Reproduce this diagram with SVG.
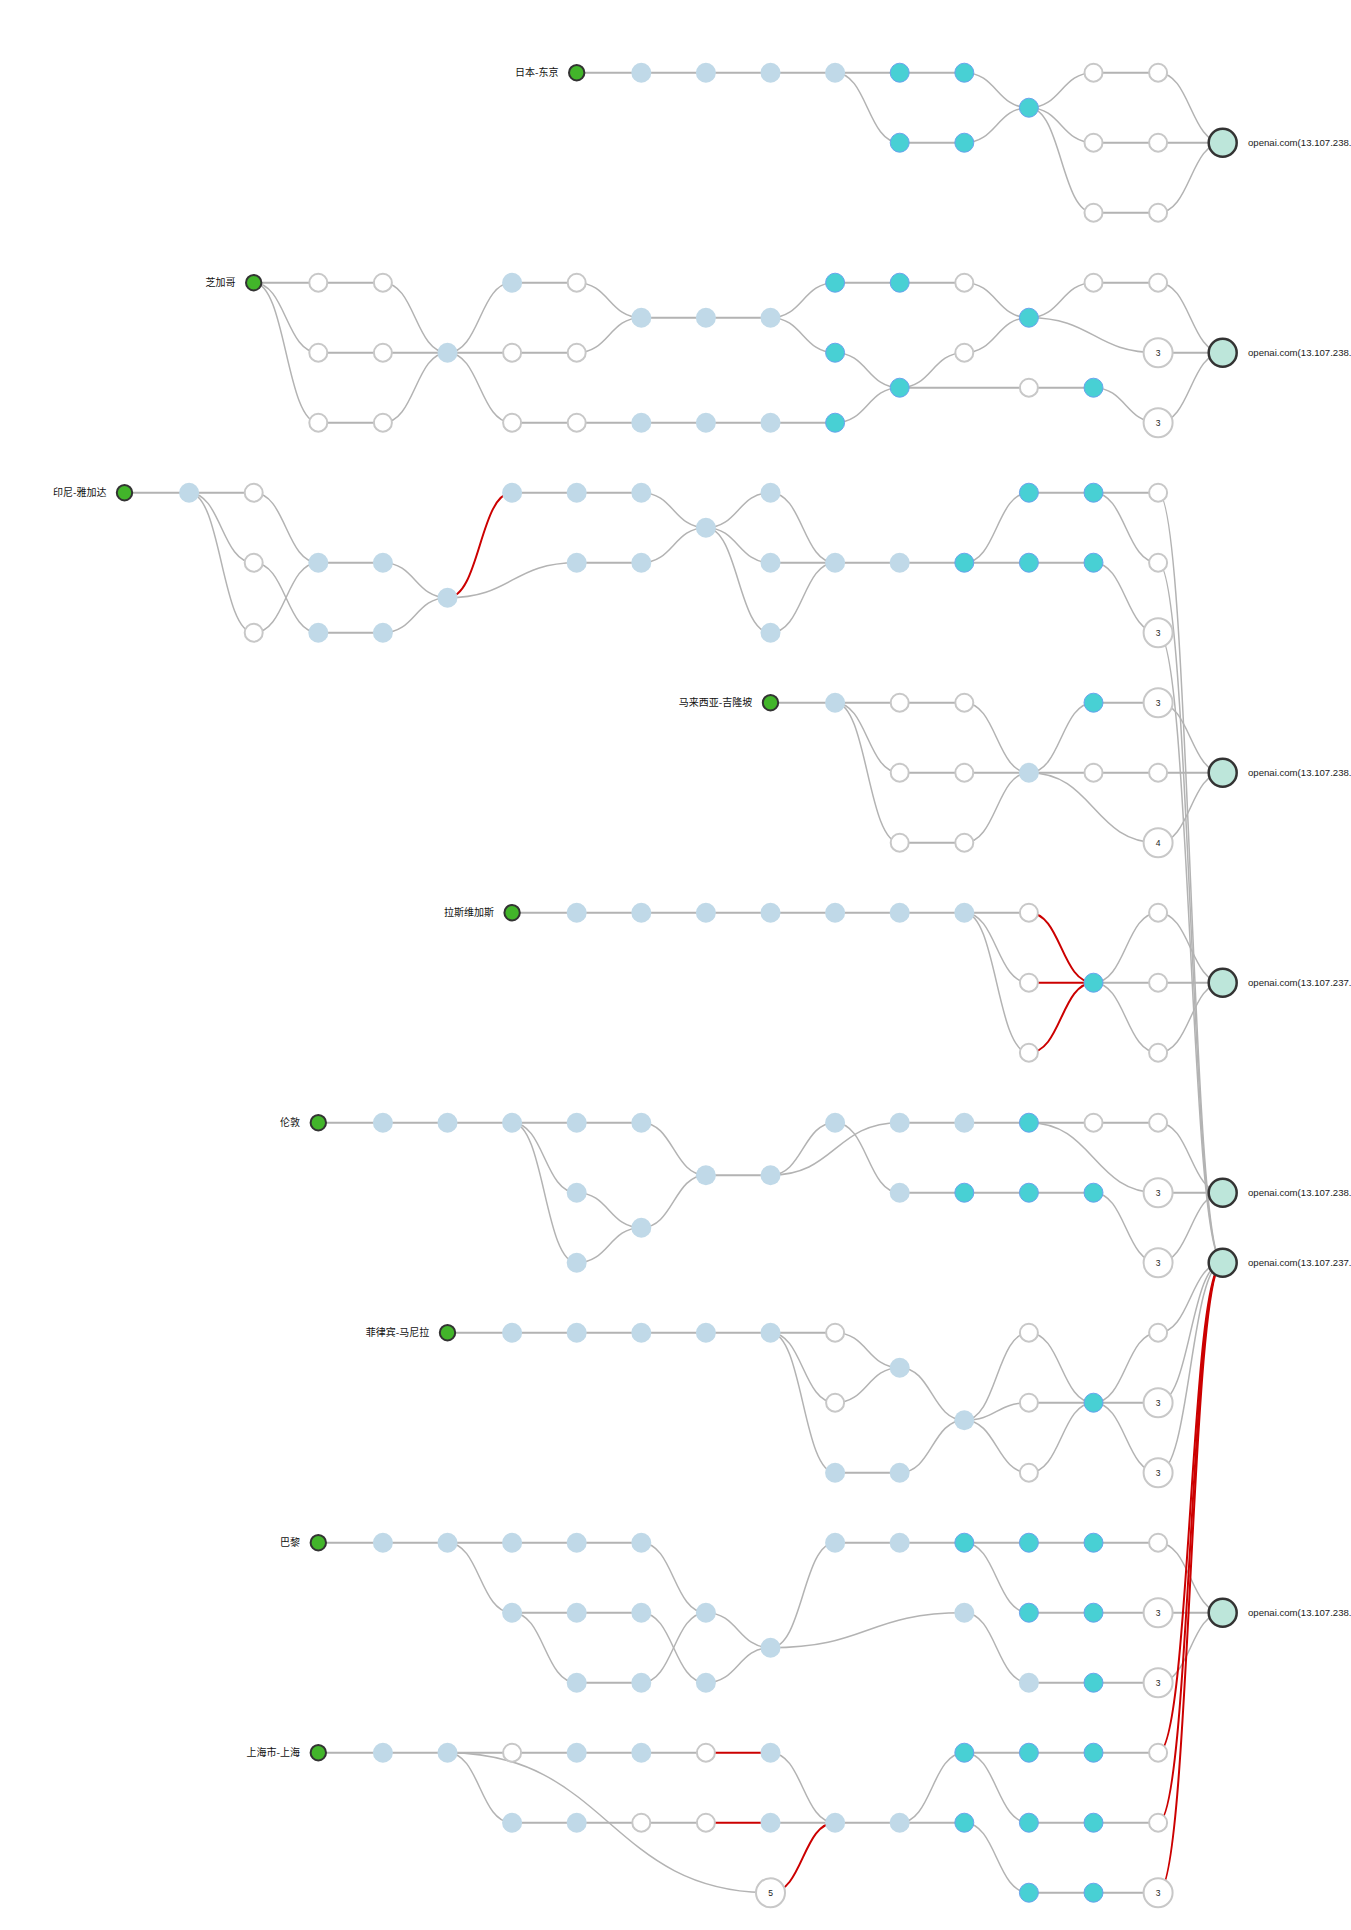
<svg xmlns="http://www.w3.org/2000/svg" width="1351" height="1930" viewBox="0 0 1351 1930">
<style>
.e{fill:none;stroke:#b3b3b3;stroke-width:1.5}
.s{stroke-width:2}
.r{fill:none;stroke:#cc0000;stroke-width:2}
.src{fill:#42b52a;stroke:#333;stroke-width:2}
.lb{fill:#c0d9e8}
.tl{fill:#48d0d4;stroke:#6aa3ee;stroke-width:1}
.wh{fill:#fff;stroke:#c8c8c8;stroke-width:2}
.dst{fill:#bde6da;stroke:#333;stroke-width:2.5}
.lbl{font-family:"Noto Sans CJK SC","Noto Sans",sans-serif;font-size:10px;fill:#111;text-anchor:end}
.dl{font-family:"Liberation Sans",Arial,sans-serif;font-size:9.6px;fill:#222}
.num{font-family:"Liberation Sans",Arial,sans-serif;font-size:8.5px;fill:#222;text-anchor:middle}
</style>
<rect width="1351" height="1930" fill="#fff"/>
<g id="connectors">
<!-- Japan -->
<path class="e s" d="M576.7 72.7H964.3M899.7 142.7H964.3M1093.5 72.7H1158.1M1093.5 142.7H1222.7M1093.5 212.7H1158.1"/>
<path class="e" d="M835.1 72.7C867.4 72.7 867.4 142.7 899.7 142.7"/>
<path class="e" d="M964.3 72.7C996.6 72.7 996.6 107.7 1028.9 107.7"/>
<path class="e" d="M964.3 142.7C996.6 142.7 996.6 107.7 1028.9 107.7"/>
<path class="e" d="M1028.9 107.7C1061.2 107.7 1061.2 72.7 1093.5 72.7"/>
<path class="e" d="M1028.9 107.7C1061.2 107.7 1061.2 142.7 1093.5 142.7"/>
<path class="e" d="M1028.9 107.7C1061.2 107.7 1061.2 212.7 1093.5 212.7"/>
<path class="e" d="M1158.1 72.7C1190.4 72.7 1190.4 142.7 1222.7 142.7"/>
<path class="e" d="M1158.1 212.7C1190.4 212.7 1190.4 142.7 1222.7 142.7"/>
<!-- Chicago -->
<path class="e s" d="M253.7 282.7H382.9M512.1 282.7H576.7M318.3 352.7H576.7M318.3 422.7H382.9M512.1 422.7H835.1M641.3 317.7H770.5M835.1 282.7H964.3M899.7 387.7H1093.5M1093.5 282.7H1158.1M1158.1 352.7H1222.7"/>
<path class="e" d="M253.7 282.7C286 282.7 286 352.7 318.3 352.7"/>
<path class="e" d="M253.7 282.7C286 282.7 286 422.7 318.3 422.7"/>
<path class="e" d="M382.9 282.7C415.2 282.7 415.2 352.7 447.5 352.7"/>
<path class="e" d="M382.9 422.7C415.2 422.7 415.2 352.7 447.5 352.7"/>
<path class="e" d="M447.5 352.7C479.8 352.7 479.8 282.7 512.1 282.7"/>
<path class="e" d="M447.5 352.7C479.8 352.7 479.8 422.7 512.1 422.7"/>
<path class="e" d="M576.7 282.7C609 282.7 609 317.7 641.3 317.7"/>
<path class="e" d="M576.7 352.7C609 352.7 609 317.7 641.3 317.7"/>
<path class="e" d="M770.5 317.7C802.8 317.7 802.8 282.7 835.1 282.7"/>
<path class="e" d="M770.5 317.7C802.8 317.7 802.8 352.7 835.1 352.7"/>
<path class="e" d="M964.3 282.7C996.6 282.7 996.6 317.7 1028.9 317.7"/>
<path class="e" d="M835.1 352.7C867.4 352.7 867.4 387.7 899.7 387.7"/>
<path class="e" d="M835.1 422.7C867.4 422.7 867.4 387.7 899.7 387.7"/>
<path class="e" d="M899.7 387.7C932 387.7 932 352.7 964.3 352.7"/>
<path class="e" d="M964.3 352.7C996.6 352.7 996.6 317.7 1028.9 317.7"/>
<path class="e" d="M1093.5 387.7C1125.8 387.7 1125.8 422.7 1158.1 422.7"/>
<path class="e" d="M1028.9 317.7C1061.2 317.7 1061.2 282.7 1093.5 282.7"/>
<path class="e" d="M1028.9 317.7C1093.5 317.7 1093.5 352.7 1158.1 352.7"/>
<path class="e" d="M1158.1 282.7C1190.4 282.7 1190.4 352.7 1222.7 352.7"/>
<path class="e" d="M1158.1 422.7C1190.4 422.7 1190.4 352.7 1222.7 352.7"/>
<!-- Jakarta -->
<path class="e s" d="M124.5 492.7H253.7M512.1 492.7H641.3M1028.9 492.7H1158.1M318.3 562.7H382.9M576.7 562.7H641.3M770.5 562.7H1093.5M318.3 632.7H382.9"/>
<path class="e" d="M189.1 492.7C221.4 492.7 221.4 562.7 253.7 562.7"/>
<path class="e" d="M189.1 492.7C221.4 492.7 221.4 632.7 253.7 632.7"/>
<path class="e" d="M253.7 492.7C286 492.7 286 562.7 318.3 562.7"/>
<path class="e" d="M253.7 562.7C286 562.7 286 632.7 318.3 632.7"/>
<path class="e" d="M253.7 632.7C286 632.7 286 562.7 318.3 562.7"/>
<path class="e" d="M382.9 562.7C415.2 562.7 415.2 597.7 447.5 597.7"/>
<path class="e" d="M382.9 632.7C415.2 632.7 415.2 597.7 447.5 597.7"/>
<path class="e" d="M447.5 597.7C512.1 597.7 512.1 562.7 576.7 562.7"/>
<path class="e" d="M641.3 492.7C673.6 492.7 673.6 527.7 705.9 527.7"/>
<path class="e" d="M641.3 562.7C673.6 562.7 673.6 527.7 705.9 527.7"/>
<path class="e" d="M705.9 527.7C738.2 527.7 738.2 492.7 770.5 492.7"/>
<path class="e" d="M705.9 527.7C738.2 527.7 738.2 562.7 770.5 562.7"/>
<path class="e" d="M705.9 527.7C738.2 527.7 738.2 632.7 770.5 632.7"/>
<path class="e" d="M770.5 492.7C802.8 492.7 802.8 562.7 835.1 562.7"/>
<path class="e" d="M770.5 632.7C802.8 632.7 802.8 562.7 835.1 562.7"/>
<path class="e" d="M964.3 562.7C996.6 562.7 996.6 492.7 1028.9 492.7"/>
<path class="e" d="M1093.5 492.7C1125.8 492.7 1125.8 562.7 1158.1 562.7"/>
<path class="e" d="M1093.5 562.7C1125.8 562.7 1125.8 632.7 1158.1 632.7"/>
<path class="e" d="M1158.1 492.7C1190.4 492.7 1190.4 1262.7 1222.7 1262.7"/>
<path class="e" d="M1158.1 562.7C1190.4 562.7 1190.4 1262.7 1222.7 1262.7"/>
<path class="e" d="M1158.1 632.7C1190.4 632.7 1190.4 1262.7 1222.7 1262.7"/>
<path class="r" d="M447.5 597.7C479.8 597.7 479.8 492.7 512.1 492.7"/>
<!-- Kuala Lumpur -->
<path class="e s" d="M770.5 702.7H964.3M1093.5 702.7H1158.1M899.7 772.7H1222.7M899.7 842.7H964.3"/>
<path class="e" d="M835.1 702.7C867.4 702.7 867.4 772.7 899.7 772.7"/>
<path class="e" d="M835.1 702.7C867.4 702.7 867.4 842.7 899.7 842.7"/>
<path class="e" d="M964.3 702.7C996.6 702.7 996.6 772.7 1028.9 772.7"/>
<path class="e" d="M964.3 842.7C996.6 842.7 996.6 772.7 1028.9 772.7"/>
<path class="e" d="M1028.9 772.7C1061.2 772.7 1061.2 702.7 1093.5 702.7"/>
<path class="e" d="M1028.9 772.7C1093.5 772.7 1093.5 842.7 1158.1 842.7"/>
<path class="e" d="M1158.1 702.7C1190.4 702.7 1190.4 772.7 1222.7 772.7"/>
<path class="e" d="M1158.1 842.7C1190.4 842.7 1190.4 772.7 1222.7 772.7"/>
<!-- Las Vegas -->
<path class="e s" d="M512.1 912.7H1028.9M1093.5 982.7H1222.7"/>
<path class="e" d="M964.3 912.7C996.6 912.7 996.6 982.7 1028.9 982.7"/>
<path class="e" d="M964.3 912.7C996.6 912.7 996.6 1052.7 1028.9 1052.7"/>
<path class="e" d="M1093.5 982.7C1125.8 982.7 1125.8 912.7 1158.1 912.7"/>
<path class="e" d="M1093.5 982.7C1125.8 982.7 1125.8 1052.7 1158.1 1052.7"/>
<path class="e" d="M1158.1 912.7C1190.4 912.7 1190.4 982.7 1222.7 982.7"/>
<path class="e" d="M1158.1 1052.7C1190.4 1052.7 1190.4 982.7 1222.7 982.7"/>
<path class="r" d="M1028.9 982.7H1093.5"/>
<path class="r" d="M1028.9 912.7C1061.2 912.7 1061.2 982.7 1093.5 982.7"/>
<path class="r" d="M1028.9 1052.7C1061.2 1052.7 1061.2 982.7 1093.5 982.7"/>
<!-- London -->
<path class="e s" d="M318.3 1122.7H641.3M899.7 1122.7H1158.1M705.9 1175.2H770.5M899.7 1192.7H1093.5M1158.1 1192.7H1222.7"/>
<path class="e" d="M512.1 1122.7C544.4 1122.7 544.4 1192.7 576.7 1192.7"/>
<path class="e" d="M512.1 1122.7C544.4 1122.7 544.4 1262.7 576.7 1262.7"/>
<path class="e" d="M641.3 1122.7C673.6 1122.7 673.6 1175.2 705.9 1175.2"/>
<path class="e" d="M576.7 1192.7C609 1192.7 609 1227.7 641.3 1227.7"/>
<path class="e" d="M576.7 1262.7C609 1262.7 609 1227.7 641.3 1227.7"/>
<path class="e" d="M641.3 1227.7C673.6 1227.7 673.6 1175.2 705.9 1175.2"/>
<path class="e" d="M770.5 1175.2C802.8 1175.2 802.8 1122.7 835.1 1122.7"/>
<path class="e" d="M770.5 1175.2C835.1 1175.2 835.1 1122.7 899.7 1122.7"/>
<path class="e" d="M835.1 1122.7C867.4 1122.7 867.4 1192.7 899.7 1192.7"/>
<path class="e" d="M1028.9 1122.7C1093.5 1122.7 1093.5 1192.7 1158.1 1192.7"/>
<path class="e" d="M1093.5 1192.7C1125.8 1192.7 1125.8 1262.7 1158.1 1262.7"/>
<path class="e" d="M1158.1 1122.7C1190.4 1122.7 1190.4 1192.7 1222.7 1192.7"/>
<path class="e" d="M1158.1 1262.7C1190.4 1262.7 1190.4 1192.7 1222.7 1192.7"/>
<!-- Manila -->
<path class="e s" d="M447.5 1332.7H835.1M1028.9 1402.7H1158.1M835.1 1472.7H899.7"/>
<path class="e" d="M770.5 1332.7C802.8 1332.7 802.8 1402.7 835.1 1402.7"/>
<path class="e" d="M770.5 1332.7C802.8 1332.7 802.8 1472.7 835.1 1472.7"/>
<path class="e" d="M835.1 1332.7C867.4 1332.7 867.4 1367.7 899.7 1367.7"/>
<path class="e" d="M835.1 1402.7C867.4 1402.7 867.4 1367.7 899.7 1367.7"/>
<path class="e" d="M899.7 1367.7C932 1367.7 932 1420.2 964.3 1420.2"/>
<path class="e" d="M899.7 1472.7C932 1472.7 932 1420.2 964.3 1420.2"/>
<path class="e" d="M964.3 1420.2C996.6 1420.2 996.6 1332.7 1028.9 1332.7"/>
<path class="e" d="M964.3 1420.2C996.6 1420.2 996.6 1402.7 1028.9 1402.7"/>
<path class="e" d="M964.3 1420.2C996.6 1420.2 996.6 1472.7 1028.9 1472.7"/>
<path class="e" d="M1028.9 1332.7C1061.2 1332.7 1061.2 1402.7 1093.5 1402.7"/>
<path class="e" d="M1028.9 1472.7C1061.2 1472.7 1061.2 1402.7 1093.5 1402.7"/>
<path class="e" d="M1093.5 1402.7C1125.8 1402.7 1125.8 1332.7 1158.1 1332.7"/>
<path class="e" d="M1093.5 1402.7C1125.8 1402.7 1125.8 1472.7 1158.1 1472.7"/>
<path class="e" d="M1158.1 1332.7C1190.4 1332.7 1190.4 1262.7 1222.7 1262.7"/>
<path class="e" d="M1158.1 1402.7C1190.4 1402.7 1190.4 1262.7 1222.7 1262.7"/>
<path class="e" d="M1158.1 1472.7C1190.4 1472.7 1190.4 1262.7 1222.7 1262.7"/>
<!-- Paris -->
<path class="e s" d="M318.3 1542.7H641.3M835.1 1542.7H1158.1M512.1 1612.7H641.3M1028.9 1612.7H1222.7M576.7 1682.7H641.3M1028.9 1682.7H1158.1"/>
<path class="e" d="M447.5 1542.7C479.8 1542.7 479.8 1612.7 512.1 1612.7"/>
<path class="e" d="M512.1 1612.7C544.4 1612.7 544.4 1682.7 576.7 1682.7"/>
<path class="e" d="M641.3 1542.7C673.6 1542.7 673.6 1612.7 705.9 1612.7"/>
<path class="e" d="M641.3 1612.7C673.6 1612.7 673.6 1682.7 705.9 1682.7"/>
<path class="e" d="M641.3 1682.7C673.6 1682.7 673.6 1612.7 705.9 1612.7"/>
<path class="e" d="M705.9 1612.7C738.2 1612.7 738.2 1647.7 770.5 1647.7"/>
<path class="e" d="M705.9 1682.7C738.2 1682.7 738.2 1647.7 770.5 1647.7"/>
<path class="e" d="M770.5 1647.7C802.8 1647.7 802.8 1542.7 835.1 1542.7"/>
<path class="e" d="M770.5 1647.7C867.4 1647.7 867.4 1612.7 964.3 1612.7"/>
<path class="e" d="M964.3 1542.7C996.6 1542.7 996.6 1612.7 1028.9 1612.7"/>
<path class="e" d="M964.3 1612.7C996.6 1612.7 996.6 1682.7 1028.9 1682.7"/>
<path class="e" d="M1158.1 1542.7C1190.4 1542.7 1190.4 1612.7 1222.7 1612.7"/>
<path class="e" d="M1158.1 1682.7C1190.4 1682.7 1190.4 1612.7 1222.7 1612.7"/>
<!-- Shanghai -->
<path class="e s" d="M318.3 1752.7H705.9M964.3 1752.7H1158.1M512.1 1822.7H705.9M770.5 1822.7H964.3M1028.9 1822.7H1158.1M1028.9 1892.7H1158.1"/>
<path class="e" d="M447.5 1752.7C479.8 1752.7 479.8 1822.7 512.1 1822.7"/>
<path class="e" d="M447.5 1752.7C609 1752.7 609 1892.7 770.5 1892.7"/>
<path class="e" d="M770.5 1752.7C802.8 1752.7 802.8 1822.7 835.1 1822.7"/>
<path class="e" d="M899.7 1822.7C932 1822.7 932 1752.7 964.3 1752.7"/>
<path class="e" d="M964.3 1752.7C996.6 1752.7 996.6 1822.7 1028.9 1822.7"/>
<path class="e" d="M964.3 1822.7C996.6 1822.7 996.6 1892.7 1028.9 1892.7"/>
<path class="r" d="M705.9 1752.7H770.5M705.9 1822.7H770.5"/>
<path class="r" d="M770.5 1892.7C802.8 1892.7 802.8 1822.7 835.1 1822.7"/>
<path class="r" d="M1158.1 1752.7C1190.4 1752.7 1190.4 1262.7 1222.7 1262.7"/>
<path class="r" d="M1158.1 1822.7C1190.4 1822.7 1190.4 1262.7 1222.7 1262.7"/>
<path class="r" d="M1158.1 1892.7C1190.4 1892.7 1190.4 1262.7 1222.7 1262.7"/>
</g>

<g id="destinations">
<g id="dest-1"><circle class="dst" cx="1222.7" cy="142.7" r="14"/><text class="dl" x="1248" y="146">openai.com(13.107.238.</text></g>
<g id="dest-2"><circle class="dst" cx="1222.7" cy="352.7" r="14"/><text class="dl" x="1248" y="356">openai.com(13.107.238.</text></g>
<g id="dest-3"><circle class="dst" cx="1222.7" cy="772.7" r="14"/><text class="dl" x="1248" y="776">openai.com(13.107.238.</text></g>
<g id="dest-4"><circle class="dst" cx="1222.7" cy="982.7" r="14"/><text class="dl" x="1248" y="986">openai.com(13.107.237.</text></g>
<g id="dest-5"><circle class="dst" cx="1222.7" cy="1192.7" r="14"/><text class="dl" x="1248" y="1196">openai.com(13.107.238.</text></g>
<g id="dest-6"><circle class="dst" cx="1222.7" cy="1262.7" r="14"/><text class="dl" x="1248" y="1266">openai.com(13.107.237.</text></g>
<g id="dest-7"><circle class="dst" cx="1222.7" cy="1612.7" r="14"/><text class="dl" x="1248" y="1616">openai.com(13.107.238.</text></g>
</g>

<g id="japan">
<g id="jp-src"><circle class="src" cx="576.7" cy="72.7" r="7.7"/><text class="lbl" x="558.5" y="76.3">日本-东京</text></g>
<g id="jp-1"><circle class="lb" cx="641.3" cy="72.7" r="10"/></g>
<g id="jp-2"><circle class="lb" cx="705.9" cy="72.7" r="10"/></g>
<g id="jp-3"><circle class="lb" cx="770.5" cy="72.7" r="10"/></g>
<g id="jp-4"><circle class="lb" cx="835.1" cy="72.7" r="10"/></g>
<g id="jp-5"><circle class="tl" cx="899.7" cy="72.7" r="9.5"/></g>
<g id="jp-6"><circle class="tl" cx="964.3" cy="72.7" r="9.5"/></g>
<g id="jp-7"><circle class="tl" cx="899.7" cy="142.7" r="9.5"/></g>
<g id="jp-8"><circle class="tl" cx="964.3" cy="142.7" r="9.5"/></g>
<g id="jp-9"><circle class="tl" cx="1028.9" cy="107.7" r="9.5"/></g>
<g id="jp-10"><circle class="wh" cx="1093.5" cy="72.7" r="9"/></g>
<g id="jp-11"><circle class="wh" cx="1158.1" cy="72.7" r="9"/></g>
<g id="jp-12"><circle class="wh" cx="1093.5" cy="142.7" r="9"/></g>
<g id="jp-13"><circle class="wh" cx="1158.1" cy="142.7" r="9"/></g>
<g id="jp-14"><circle class="wh" cx="1093.5" cy="212.7" r="9"/></g>
<g id="jp-15"><circle class="wh" cx="1158.1" cy="212.7" r="9"/></g>
</g>

<g id="chicago">
<g id="chi-src"><circle class="src" cx="253.7" cy="282.7" r="7.7"/><text class="lbl" x="235.5" y="286.3">芝加哥</text></g>
<g id="chi-1"><circle class="wh" cx="318.3" cy="282.7" r="9"/></g>
<g id="chi-2"><circle class="wh" cx="382.9" cy="282.7" r="9"/></g>
<g id="chi-3"><circle class="wh" cx="318.3" cy="352.7" r="9"/></g>
<g id="chi-4"><circle class="wh" cx="382.9" cy="352.7" r="9"/></g>
<g id="chi-5"><circle class="wh" cx="318.3" cy="422.7" r="9"/></g>
<g id="chi-6"><circle class="wh" cx="382.9" cy="422.7" r="9"/></g>
<g id="chi-7"><circle class="lb" cx="447.5" cy="352.7" r="10"/></g>
<g id="chi-8"><circle class="lb" cx="512.1" cy="282.7" r="10"/></g>
<g id="chi-9"><circle class="wh" cx="512.1" cy="352.7" r="9"/></g>
<g id="chi-10"><circle class="wh" cx="512.1" cy="422.7" r="9"/></g>
<g id="chi-11"><circle class="wh" cx="576.7" cy="282.7" r="9"/></g>
<g id="chi-12"><circle class="wh" cx="576.7" cy="352.7" r="9"/></g>
<g id="chi-13"><circle class="wh" cx="576.7" cy="422.7" r="9"/></g>
<g id="chi-14"><circle class="lb" cx="641.3" cy="317.7" r="10"/></g>
<g id="chi-15"><circle class="lb" cx="705.9" cy="317.7" r="10"/></g>
<g id="chi-16"><circle class="lb" cx="770.5" cy="317.7" r="10"/></g>
<g id="chi-17"><circle class="lb" cx="641.3" cy="422.7" r="10"/></g>
<g id="chi-18"><circle class="lb" cx="705.9" cy="422.7" r="10"/></g>
<g id="chi-19"><circle class="lb" cx="770.5" cy="422.7" r="10"/></g>
<g id="chi-20"><circle class="tl" cx="835.1" cy="282.7" r="9.5"/></g>
<g id="chi-21"><circle class="tl" cx="899.7" cy="282.7" r="9.5"/></g>
<g id="chi-22"><circle class="wh" cx="964.3" cy="282.7" r="9"/></g>
<g id="chi-23"><circle class="tl" cx="835.1" cy="352.7" r="9.5"/></g>
<g id="chi-24"><circle class="tl" cx="835.1" cy="422.7" r="9.5"/></g>
<g id="chi-25"><circle class="tl" cx="899.7" cy="387.7" r="9.5"/></g>
<g id="chi-26"><circle class="wh" cx="964.3" cy="352.7" r="9"/></g>
<g id="chi-27"><circle class="tl" cx="1028.9" cy="317.7" r="9.5"/></g>
<g id="chi-28"><circle class="wh" cx="1028.9" cy="387.7" r="9"/></g>
<g id="chi-29"><circle class="tl" cx="1093.5" cy="387.7" r="9.5"/></g>
<g id="chi-30"><circle class="wh" cx="1093.5" cy="282.7" r="9"/></g>
<g id="chi-31"><circle class="wh" cx="1158.1" cy="282.7" r="9"/></g>
<g id="chi-32"><circle class="wh" cx="1158.1" cy="352.7" r="14.5"/><text class="num" x="1158.1" y="355.7">3</text></g>
<g id="chi-33"><circle class="wh" cx="1158.1" cy="422.7" r="14.5"/><text class="num" x="1158.1" y="425.7">3</text></g>
</g>

<g id="jakarta">
<g id="jkt-src"><circle class="src" cx="124.5" cy="492.7" r="7.7"/><text class="lbl" x="106.5" y="496.3">印尼-雅加达</text></g>
<g id="jkt-1"><circle class="lb" cx="189.1" cy="492.7" r="10"/></g>
<g id="jkt-2"><circle class="wh" cx="253.7" cy="492.7" r="9"/></g>
<g id="jkt-3"><circle class="wh" cx="253.7" cy="562.7" r="9"/></g>
<g id="jkt-4"><circle class="wh" cx="253.7" cy="632.7" r="9"/></g>
<g id="jkt-5"><circle class="lb" cx="318.3" cy="562.7" r="10"/></g>
<g id="jkt-6"><circle class="lb" cx="382.9" cy="562.7" r="10"/></g>
<g id="jkt-7"><circle class="lb" cx="318.3" cy="632.7" r="10"/></g>
<g id="jkt-8"><circle class="lb" cx="382.9" cy="632.7" r="10"/></g>
<g id="jkt-9"><circle class="lb" cx="447.5" cy="597.7" r="10"/></g>
<g id="jkt-10"><circle class="lb" cx="512.1" cy="492.7" r="10"/></g>
<g id="jkt-11"><circle class="lb" cx="576.7" cy="492.7" r="10"/></g>
<g id="jkt-12"><circle class="lb" cx="641.3" cy="492.7" r="10"/></g>
<g id="jkt-13"><circle class="lb" cx="576.7" cy="562.7" r="10"/></g>
<g id="jkt-14"><circle class="lb" cx="641.3" cy="562.7" r="10"/></g>
<g id="jkt-15"><circle class="lb" cx="705.9" cy="527.7" r="10"/></g>
<g id="jkt-16"><circle class="lb" cx="770.5" cy="492.7" r="10"/></g>
<g id="jkt-17"><circle class="lb" cx="770.5" cy="562.7" r="10"/></g>
<g id="jkt-18"><circle class="lb" cx="770.5" cy="632.7" r="10"/></g>
<g id="jkt-19"><circle class="lb" cx="835.1" cy="562.7" r="10"/></g>
<g id="jkt-20"><circle class="lb" cx="899.7" cy="562.7" r="10"/></g>
<g id="jkt-21"><circle class="tl" cx="964.3" cy="562.7" r="9.5"/></g>
<g id="jkt-22"><circle class="tl" cx="1028.9" cy="492.7" r="9.5"/></g>
<g id="jkt-23"><circle class="tl" cx="1093.5" cy="492.7" r="9.5"/></g>
<g id="jkt-24"><circle class="tl" cx="1028.9" cy="562.7" r="9.5"/></g>
<g id="jkt-25"><circle class="tl" cx="1093.5" cy="562.7" r="9.5"/></g>
<g id="jkt-26"><circle class="wh" cx="1158.1" cy="492.7" r="9"/></g>
<g id="jkt-27"><circle class="wh" cx="1158.1" cy="562.7" r="9"/></g>
<g id="jkt-28"><circle class="wh" cx="1158.1" cy="632.7" r="14.5"/><text class="num" x="1158.1" y="635.7">3</text></g>
</g>

<g id="kualalumpur">
<g id="kl-src"><circle class="src" cx="770.5" cy="702.7" r="7.7"/><text class="lbl" x="752.3" y="706.3">马来西亚-吉隆坡</text></g>
<g id="kl-1"><circle class="lb" cx="835.1" cy="702.7" r="10"/></g>
<g id="kl-2"><circle class="wh" cx="899.7" cy="702.7" r="9"/></g>
<g id="kl-3"><circle class="wh" cx="964.3" cy="702.7" r="9"/></g>
<g id="kl-4"><circle class="wh" cx="899.7" cy="772.7" r="9"/></g>
<g id="kl-5"><circle class="wh" cx="964.3" cy="772.7" r="9"/></g>
<g id="kl-6"><circle class="wh" cx="899.7" cy="842.7" r="9"/></g>
<g id="kl-7"><circle class="wh" cx="964.3" cy="842.7" r="9"/></g>
<g id="kl-8"><circle class="lb" cx="1028.9" cy="772.7" r="10"/></g>
<g id="kl-9"><circle class="tl" cx="1093.5" cy="702.7" r="9.5"/></g>
<g id="kl-10"><circle class="wh" cx="1158.1" cy="702.7" r="14.5"/><text class="num" x="1158.1" y="705.7">3</text></g>
<g id="kl-11"><circle class="wh" cx="1093.5" cy="772.7" r="9"/></g>
<g id="kl-12"><circle class="wh" cx="1158.1" cy="772.7" r="9"/></g>
<g id="kl-13"><circle class="wh" cx="1158.1" cy="842.7" r="14.5"/><text class="num" x="1158.1" y="845.7">4</text></g>
</g>

<g id="lasvegas">
<g id="lv-src"><circle class="src" cx="512.1" cy="912.7" r="7.7"/><text class="lbl" x="493.9" y="916.3">拉斯维加斯</text></g>
<g id="lv-1"><circle class="lb" cx="576.7" cy="912.7" r="10"/></g>
<g id="lv-2"><circle class="lb" cx="641.3" cy="912.7" r="10"/></g>
<g id="lv-3"><circle class="lb" cx="705.9" cy="912.7" r="10"/></g>
<g id="lv-4"><circle class="lb" cx="770.5" cy="912.7" r="10"/></g>
<g id="lv-5"><circle class="lb" cx="835.1" cy="912.7" r="10"/></g>
<g id="lv-6"><circle class="lb" cx="899.7" cy="912.7" r="10"/></g>
<g id="lv-7"><circle class="lb" cx="964.3" cy="912.7" r="10"/></g>
<g id="lv-8"><circle class="wh" cx="1028.9" cy="912.7" r="9"/></g>
<g id="lv-9"><circle class="wh" cx="1028.9" cy="982.7" r="9"/></g>
<g id="lv-10"><circle class="wh" cx="1028.9" cy="1052.7" r="9"/></g>
<g id="lv-11"><circle class="tl" cx="1093.5" cy="982.7" r="9.5"/></g>
<g id="lv-12"><circle class="wh" cx="1158.1" cy="912.7" r="9"/></g>
<g id="lv-13"><circle class="wh" cx="1158.1" cy="982.7" r="9"/></g>
<g id="lv-14"><circle class="wh" cx="1158.1" cy="1052.7" r="9"/></g>
</g>

<g id="london">
<g id="lon-src"><circle class="src" cx="318.3" cy="1122.7" r="7.7"/><text class="lbl" x="300.1" y="1126.3">伦敦</text></g>
<g id="lon-1"><circle class="lb" cx="382.9" cy="1122.7" r="10"/></g>
<g id="lon-2"><circle class="lb" cx="447.5" cy="1122.7" r="10"/></g>
<g id="lon-3"><circle class="lb" cx="512.1" cy="1122.7" r="10"/></g>
<g id="lon-4"><circle class="lb" cx="576.7" cy="1122.7" r="10"/></g>
<g id="lon-5"><circle class="lb" cx="641.3" cy="1122.7" r="10"/></g>
<g id="lon-6"><circle class="lb" cx="576.7" cy="1192.7" r="10"/></g>
<g id="lon-7"><circle class="lb" cx="576.7" cy="1262.7" r="10"/></g>
<g id="lon-8"><circle class="lb" cx="641.3" cy="1227.7" r="10"/></g>
<g id="lon-9"><circle class="lb" cx="705.9" cy="1175.2" r="10"/></g>
<g id="lon-10"><circle class="lb" cx="770.5" cy="1175.2" r="10"/></g>
<g id="lon-11"><circle class="lb" cx="835.1" cy="1122.7" r="10"/></g>
<g id="lon-12"><circle class="lb" cx="899.7" cy="1122.7" r="10"/></g>
<g id="lon-13"><circle class="lb" cx="964.3" cy="1122.7" r="10"/></g>
<g id="lon-14"><circle class="tl" cx="1028.9" cy="1122.7" r="9.5"/></g>
<g id="lon-15"><circle class="wh" cx="1093.5" cy="1122.7" r="9"/></g>
<g id="lon-16"><circle class="wh" cx="1158.1" cy="1122.7" r="9"/></g>
<g id="lon-17"><circle class="lb" cx="899.7" cy="1192.7" r="10"/></g>
<g id="lon-18"><circle class="tl" cx="964.3" cy="1192.7" r="9.5"/></g>
<g id="lon-19"><circle class="tl" cx="1028.9" cy="1192.7" r="9.5"/></g>
<g id="lon-20"><circle class="tl" cx="1093.5" cy="1192.7" r="9.5"/></g>
<g id="lon-21"><circle class="wh" cx="1158.1" cy="1192.7" r="14.5"/><text class="num" x="1158.1" y="1195.7">3</text></g>
<g id="lon-22"><circle class="wh" cx="1158.1" cy="1262.7" r="14.5"/><text class="num" x="1158.1" y="1265.7">3</text></g>
</g>

<g id="manila">
<g id="mnl-src"><circle class="src" cx="447.5" cy="1332.7" r="7.7"/><text class="lbl" x="429.3" y="1336.3">菲律宾-马尼拉</text></g>
<g id="mnl-1"><circle class="lb" cx="512.1" cy="1332.7" r="10"/></g>
<g id="mnl-2"><circle class="lb" cx="576.7" cy="1332.7" r="10"/></g>
<g id="mnl-3"><circle class="lb" cx="641.3" cy="1332.7" r="10"/></g>
<g id="mnl-4"><circle class="lb" cx="705.9" cy="1332.7" r="10"/></g>
<g id="mnl-5"><circle class="lb" cx="770.5" cy="1332.7" r="10"/></g>
<g id="mnl-6"><circle class="wh" cx="835.1" cy="1332.7" r="9"/></g>
<g id="mnl-7"><circle class="wh" cx="835.1" cy="1402.7" r="9"/></g>
<g id="mnl-8"><circle class="lb" cx="835.1" cy="1472.7" r="10"/></g>
<g id="mnl-9"><circle class="lb" cx="899.7" cy="1472.7" r="10"/></g>
<g id="mnl-10"><circle class="lb" cx="899.7" cy="1367.7" r="10"/></g>
<g id="mnl-11"><circle class="lb" cx="964.3" cy="1420.2" r="10"/></g>
<g id="mnl-12"><circle class="wh" cx="1028.9" cy="1332.7" r="9"/></g>
<g id="mnl-13"><circle class="wh" cx="1028.9" cy="1402.7" r="9"/></g>
<g id="mnl-14"><circle class="wh" cx="1028.9" cy="1472.7" r="9"/></g>
<g id="mnl-15"><circle class="tl" cx="1093.5" cy="1402.7" r="9.5"/></g>
<g id="mnl-16"><circle class="wh" cx="1158.1" cy="1332.7" r="9"/></g>
<g id="mnl-17"><circle class="wh" cx="1158.1" cy="1402.7" r="14.5"/><text class="num" x="1158.1" y="1405.7">3</text></g>
<g id="mnl-18"><circle class="wh" cx="1158.1" cy="1472.7" r="14.5"/><text class="num" x="1158.1" y="1475.7">3</text></g>
</g>

<g id="paris">
<g id="par-src"><circle class="src" cx="318.3" cy="1542.7" r="7.7"/><text class="lbl" x="300.1" y="1546.3">巴黎</text></g>
<g id="par-1"><circle class="lb" cx="382.9" cy="1542.7" r="10"/></g>
<g id="par-2"><circle class="lb" cx="447.5" cy="1542.7" r="10"/></g>
<g id="par-3"><circle class="lb" cx="512.1" cy="1542.7" r="10"/></g>
<g id="par-4"><circle class="lb" cx="576.7" cy="1542.7" r="10"/></g>
<g id="par-5"><circle class="lb" cx="641.3" cy="1542.7" r="10"/></g>
<g id="par-6"><circle class="lb" cx="512.1" cy="1612.7" r="10"/></g>
<g id="par-7"><circle class="lb" cx="576.7" cy="1612.7" r="10"/></g>
<g id="par-8"><circle class="lb" cx="641.3" cy="1612.7" r="10"/></g>
<g id="par-9"><circle class="lb" cx="705.9" cy="1612.7" r="10"/></g>
<g id="par-10"><circle class="lb" cx="576.7" cy="1682.7" r="10"/></g>
<g id="par-11"><circle class="lb" cx="641.3" cy="1682.7" r="10"/></g>
<g id="par-12"><circle class="lb" cx="705.9" cy="1682.7" r="10"/></g>
<g id="par-13"><circle class="lb" cx="770.5" cy="1647.7" r="10"/></g>
<g id="par-14"><circle class="lb" cx="835.1" cy="1542.7" r="10"/></g>
<g id="par-15"><circle class="lb" cx="899.7" cy="1542.7" r="10"/></g>
<g id="par-16"><circle class="tl" cx="964.3" cy="1542.7" r="9.5"/></g>
<g id="par-17"><circle class="tl" cx="1028.9" cy="1542.7" r="9.5"/></g>
<g id="par-18"><circle class="tl" cx="1093.5" cy="1542.7" r="9.5"/></g>
<g id="par-19"><circle class="wh" cx="1158.1" cy="1542.7" r="9"/></g>
<g id="par-20"><circle class="lb" cx="964.3" cy="1612.7" r="10"/></g>
<g id="par-21"><circle class="tl" cx="1028.9" cy="1612.7" r="9.5"/></g>
<g id="par-22"><circle class="tl" cx="1093.5" cy="1612.7" r="9.5"/></g>
<g id="par-23"><circle class="wh" cx="1158.1" cy="1612.7" r="14.5"/><text class="num" x="1158.1" y="1615.7">3</text></g>
<g id="par-24"><circle class="lb" cx="1028.9" cy="1682.7" r="10"/></g>
<g id="par-25"><circle class="tl" cx="1093.5" cy="1682.7" r="9.5"/></g>
<g id="par-26"><circle class="wh" cx="1158.1" cy="1682.7" r="14.5"/><text class="num" x="1158.1" y="1685.7">3</text></g>
</g>

<g id="shanghai">
<g id="sh-src"><circle class="src" cx="318.3" cy="1752.7" r="7.7"/><text class="lbl" x="300.1" y="1756.3">上海市-上海</text></g>
<g id="sh-1"><circle class="lb" cx="382.9" cy="1752.7" r="10"/></g>
<g id="sh-2"><circle class="lb" cx="447.5" cy="1752.7" r="10"/></g>
<g id="sh-3"><circle class="wh" cx="512.1" cy="1752.7" r="9"/></g>
<g id="sh-4"><circle class="lb" cx="576.7" cy="1752.7" r="10"/></g>
<g id="sh-5"><circle class="lb" cx="641.3" cy="1752.7" r="10"/></g>
<g id="sh-6"><circle class="wh" cx="705.9" cy="1752.7" r="9"/></g>
<g id="sh-7"><circle class="lb" cx="770.5" cy="1752.7" r="10"/></g>
<g id="sh-8"><circle class="lb" cx="512.1" cy="1822.7" r="10"/></g>
<g id="sh-9"><circle class="lb" cx="576.7" cy="1822.7" r="10"/></g>
<g id="sh-10"><circle class="wh" cx="641.3" cy="1822.7" r="9"/></g>
<g id="sh-11"><circle class="wh" cx="705.9" cy="1822.7" r="9"/></g>
<g id="sh-12"><circle class="lb" cx="770.5" cy="1822.7" r="10"/></g>
<g id="sh-13"><circle class="lb" cx="835.1" cy="1822.7" r="10"/></g>
<g id="sh-14"><circle class="lb" cx="899.7" cy="1822.7" r="10"/></g>
<g id="sh-15"><circle class="tl" cx="964.3" cy="1822.7" r="9.5"/></g>
<g id="sh-16"><circle class="tl" cx="964.3" cy="1752.7" r="9.5"/></g>
<g id="sh-17"><circle class="tl" cx="1028.9" cy="1752.7" r="9.5"/></g>
<g id="sh-18"><circle class="tl" cx="1093.5" cy="1752.7" r="9.5"/></g>
<g id="sh-19"><circle class="wh" cx="1158.1" cy="1752.7" r="9"/></g>
<g id="sh-20"><circle class="tl" cx="1028.9" cy="1822.7" r="9.5"/></g>
<g id="sh-21"><circle class="tl" cx="1093.5" cy="1822.7" r="9.5"/></g>
<g id="sh-22"><circle class="wh" cx="1158.1" cy="1822.7" r="9"/></g>
<g id="sh-23"><circle class="wh" cx="770.5" cy="1892.7" r="14.5"/><text class="num" x="770.5" y="1895.7">5</text></g>
<g id="sh-24"><circle class="tl" cx="1028.9" cy="1892.7" r="9.5"/></g>
<g id="sh-25"><circle class="tl" cx="1093.5" cy="1892.7" r="9.5"/></g>
<g id="sh-26"><circle class="wh" cx="1158.1" cy="1892.7" r="14.5"/><text class="num" x="1158.1" y="1895.7">3</text></g>
</g>
</svg>
